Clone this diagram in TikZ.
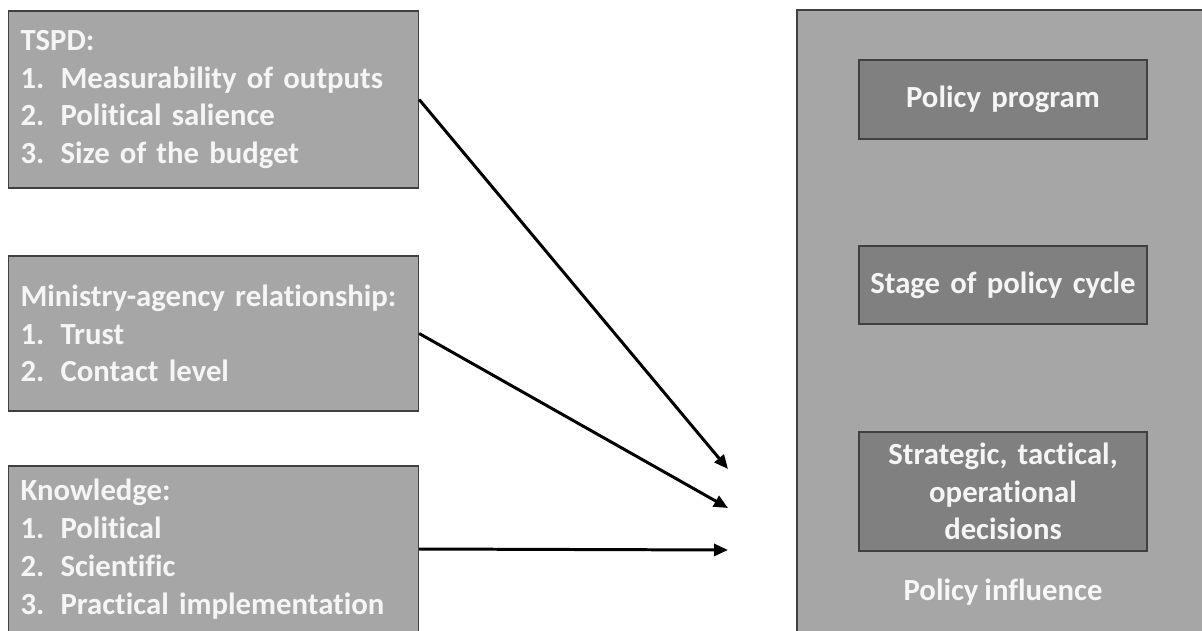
\documentclass[tikz,border=0pt]{standalone}
\usepackage{fontspec}
\setmainfont{Carlito}[WordSpace=0.85, Ligatures=NoCommon]
\usetikzlibrary{arrows.meta,positioning}
\newcommand\itm[1]{\makebox[0.8cm][l]{#1}}

\begin{document}
\begin{tikzpicture}[
  x=0.02cm, y=-0.02cm,
  font=\bfseries\fontsize{17.5}{21.5}\selectfont,
  box/.style    ={draw=black!75, line width=0.8pt, fill=black!35,
                  text=black!4, inner sep=0pt},
  factor/.style ={box, align=left, text width=7.72cm, minimum width=8.2cm,
                  inner xsep=0.24cm},
  frame/.style  ={box, minimum width=8.4cm, minimum height=12.8cm},
  outcome/.style={box, fill=black!50, align=center, text width=5.5cm,
                  minimum width=5.76cm},
  lbl/.style    ={text=black!3},
  arr/.style    ={-{Triangle[length=2.8mm,width=2.4mm]}, line width=1.7pt},
]
\useasboundingbox (0,0) rectangle (1202,631);
\clip (0,0) rectangle (1202,631);

\node[factor, minimum height=3.54cm] (tspd) at (213.5,99.5) {%
  TSPD:\\
  \itm{1.}Measurability of outputs\\
  \itm{2.}Political salience\\
  \itm{3.}Size of the budget};
\node[factor, minimum height=3.1cm] (rel) at (213.5,333.5) {%
  Ministry-agency relationship:\\
  \itm{1.}Trust\\
  \itm{2.}Contact level};
\node[factor, minimum height=3.32cm] (know) at (213.5,549) {%
  Knowledge:\\
  \itm{1.}Political\\
  \itm{2.}Scientific\\
  \itm{3.}Practical implementation};

\node[frame] (infl) at (1007,330) {};
\node[outcome, minimum height=1.58cm] (prog)  at (1003,99.5) {Policy program};
\node[outcome, minimum height=1.56cm] (stage) at (1003,285) {Stage of policy cycle};
\node[outcome, minimum height=2.38cm] (dec)   at (1003,491.5) {Strategic, tactical,\\operational\\decisions};
\node[lbl] (name) at (1003,592) {Policy influence};

\coordinate (t1) at (728,469);
\coordinate (t2) at (728,508);
\coordinate (t3) at (728,550);

\draw[arr] (tspd.east) -- (t1);
\draw[arr] (rel.east)  -- (t2);
\draw[arr] (know.east) -- (t3);

\end{tikzpicture}
\end{document}
